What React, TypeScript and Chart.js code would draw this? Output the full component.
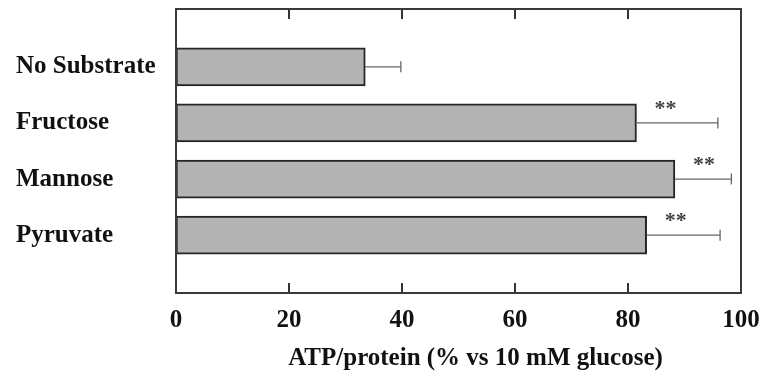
import React, { useEffect, useRef } from "react";
import { Chart, registerables } from "chart.js";

Chart.register(...registerables);

const categories = ["No Substrate", "Fructose", "Mannose", "Pyruvate"];
const meanValues = [33.5, 81.5, 88.3, 83.3];
const errorValues = [6.3, 14.4, 10.0, 13.0];
const significance = ["", "**", "**", "**"];
const xTickValues = [0, 20, 40, 60, 80, 100];
const xTitle = "ATP/protein (% vs 10 mM glucose)";

const FONT = "'Liberation Serif', 'Times New Roman', serif";

const extrasPlugin = {
  id: "extras",
  afterDatasetsDraw(chart: any) {
    const { ctx, chartArea, scales } = chart;
    const xs = scales.x;
    const ys = scales.y;
    ctx.save();
    // error bars
    ctx.strokeStyle = "#666";
    ctx.lineWidth = 1.3;
    meanValues.forEach((v, i) => {
      const x0 = xs.getPixelForValue(v);
      const x1 = xs.getPixelForValue(v + errorValues[i]);
      const y = ys.getPixelForValue(i);
      ctx.beginPath();
      ctx.moveTo(x0, y);
      ctx.lineTo(x1, y);
      ctx.moveTo(x1, y - 5.5);
      ctx.lineTo(x1, y + 5.5);
      ctx.stroke();
    });
    // significance marks
    ctx.fillStyle = "#444";
    ctx.font = `bold 22px ${FONT}`;
    ctx.textAlign = "center";
    ctx.textBaseline = "middle";
    meanValues.forEach((v, i) => {
      if (!significance[i]) return;
      const x = xs.getPixelForValue(v) + 29;
      const y = ys.getPixelForValue(i) - 14;
      ctx.fillText(significance[i], x, y);
    });
    // inward tick marks top & bottom
    ctx.strokeStyle = "#333";
    ctx.lineWidth = 2;
    xTickValues.forEach((t) => {
      if (t === xs.min || t === xs.max) return;
      const x = xs.getPixelForValue(t);
      ctx.beginPath();
      ctx.moveTo(x, chartArea.top);
      ctx.lineTo(x, chartArea.top + 10);
      ctx.moveTo(x, chartArea.bottom);
      ctx.lineTo(x, chartArea.bottom - 10);
      ctx.stroke();
    });
    // frame
    ctx.strokeStyle = "#3a3a3a";
    ctx.lineWidth = 2;
    ctx.strokeRect(
      chartArea.left,
      chartArea.top,
      chartArea.right - chartArea.left,
      chartArea.bottom - chartArea.top
    );
    // axis title
    ctx.fillStyle = "#111";
    ctx.font = `bold 25px ${FONT}`;
    ctx.textAlign = "center";
    ctx.textBaseline = "middle";
    ctx.fillText(xTitle, (chartArea.left + chartArea.right) / 2 + 17, chartArea.bottom + 66);
    ctx.restore();
  },
};

export default function App() {
  const canvasRef = useRef<HTMLCanvasElement | null>(null);

  useEffect(() => {
    document.body.style.margin = "0";
    const canvas = canvasRef.current;
    if (!canvas) return;
    const chart = new Chart(canvas, {
      type: "bar",
      data: {
        datasets: [
          {
            data: meanValues.map((v, i) => ({ x: v, y: i })),
            backgroundColor: "#b3b3b3",
            borderColor: "#262626",
            borderWidth: 2,
            borderSkipped: false,
            barThickness: 38,
          },
        ],
      },
      options: {
        indexAxis: "y",
        responsive: false,
        animation: false,
        devicePixelRatio: 1,
        layout: { padding: { left: 16, right: 21, top: 9, bottom: 0 } },
        plugins: {
          legend: { display: false },
          tooltip: { enabled: false },
        },
        scales: {
          x: {
            type: "linear",
            min: 0,
            max: 100,
            afterBuildTicks: (scale: any) => {
              scale.ticks = xTickValues.map((v) => ({ value: v }));
            },
            afterFit: (scale: any) => {
              scale.height = 87;
              scale.paddingLeft = 0;
              scale.paddingRight = 0;
            },
            grid: { display: false },
            border: { display: false },
            ticks: {
              color: "#111",
              padding: 5,
              maxRotation: 0,
              font: { family: FONT, size: 25, weight: "bold" },
            },
          },
          y: {
            type: "linear",
            offset: false,
            min: -1.03,
            max: 4.03,
            reverse: true,
            afterBuildTicks: (scale: any) => {
              scale.ticks = categories.map((_, i) => ({ value: i }));
            },
            afterFit: (scale: any) => {
              scale.width = 160;
              scale.paddingTop = 0;
              scale.paddingBottom = 0;
            },
            grid: { display: false },
            border: { display: false },
            ticks: {
              color: "#111",
              crossAlign: "far",
              callback: (v: any) => categories[Number(v)] ?? "",
              font: { family: FONT, size: 25, weight: "bold" },
            },
          },
        },
      },
      plugins: [extrasPlugin],
    } as any);
    return () => chart.destroy();
  }, []);

  return (
    <div style={{ width: 762, height: 380 }}>
      <canvas ref={canvasRef} width={762} height={380} style={{ display: "block" }} />
    </div>
  );
}
